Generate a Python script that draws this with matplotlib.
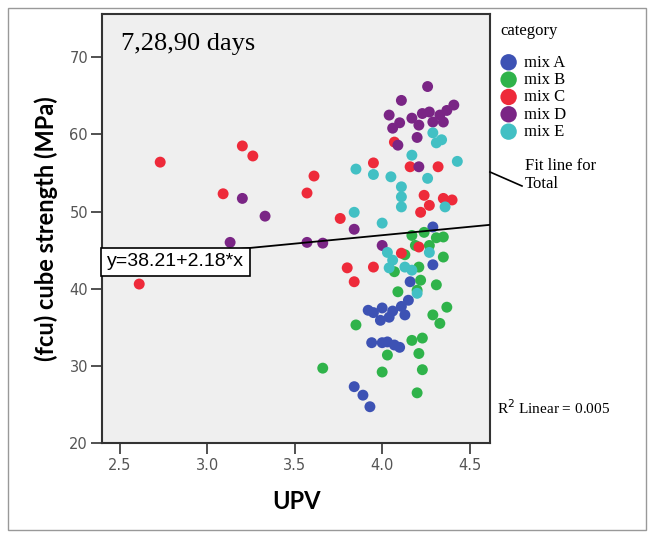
import matplotlib
matplotlib.use("Agg")
import matplotlib.pyplot as plt
from matplotlib.lines import Line2D
from matplotlib.patches import Rectangle
import numpy as np

# UPV (x) and cube strength (y) per mix
mixA_x = [3.92, 3.95, 4.00, 3.99, 4.04, 4.06, 4.11, 4.13, 4.15, 3.94, 4.00, 4.03, 4.07, 4.10,
          3.84, 3.89, 3.93, 4.29, 4.29, 4.16]
mixA_y = [37.2, 36.9, 37.5, 35.9, 36.3, 37.1, 37.7, 36.6, 38.5, 33.0, 33.0, 33.1, 32.7, 32.4,
          27.3, 26.2, 24.7, 48.0, 43.1, 40.9]

mixB_x = [3.66, 3.85, 4.00, 4.03, 4.17, 4.23, 4.21, 4.23, 4.20, 4.29, 4.33, 4.37, 4.09, 4.20,
          4.31, 4.22, 4.21, 4.07, 4.35, 4.17, 4.24, 4.31, 4.35, 4.19, 4.27, 4.13]
mixB_y = [29.7, 35.3, 29.2, 31.4, 33.3, 33.6, 31.6, 29.5, 26.5, 36.6, 35.5, 37.6, 39.6, 39.8,
          40.5, 41.1, 42.8, 42.2, 44.1, 46.9, 47.3, 46.6, 46.7, 45.6, 45.6, 44.4]

mixC_x = [2.61, 2.73, 3.20, 3.26, 3.09, 3.61, 3.57, 3.95, 4.07, 4.16, 4.32, 4.24, 4.27, 4.22,
          4.35, 4.40, 3.76, 4.21, 4.11, 3.80, 3.95, 3.84]
mixC_y = [40.6, 56.4, 58.5, 57.2, 52.3, 54.6, 52.4, 56.3, 59.0, 55.8, 55.8, 52.1, 50.8, 49.9,
          51.7, 51.5, 49.1, 45.4, 44.6, 42.7, 42.8, 40.9]

mixD_x = [3.20, 3.33, 3.13, 3.57, 3.66, 4.00, 3.84, 4.26, 4.11, 4.04, 4.10, 4.06, 4.17, 4.23,
          4.27, 4.33, 4.37, 4.41, 4.35, 4.29, 4.21, 4.09, 4.20, 4.21]
mixD_y = [51.7, 49.4, 46.0, 46.0, 45.9, 45.6, 47.7, 66.2, 64.4, 62.5, 61.5, 60.8, 62.1, 62.7,
          62.9, 62.5, 63.1, 63.8, 61.6, 61.6, 61.2, 58.6, 59.6, 55.8]

mixE_x = [3.85, 3.95, 4.05, 4.11, 4.11, 4.11, 4.26, 4.17, 4.43, 4.29, 4.31, 4.34, 4.36, 3.84,
          4.00, 4.03, 4.06, 4.13, 4.17, 4.27, 4.04, 4.20]
mixE_y = [55.5, 54.8, 54.5, 53.2, 51.9, 50.6, 54.3, 57.3, 56.5, 60.2, 58.9, 59.3, 50.6, 49.9,
          48.5, 44.7, 43.7, 42.8, 42.4, 44.7, 42.7, 39.4]

labels = ["mix A", "mix B", "mix C", "mix D", "mix E"]
colors = ["#3d52b4", "#2fb34a", "#ee2a3a", "#7a2585", "#42c0c4"]
intercept, slope = 38.21, 2.18
r2 = 0.005

xticks = [2.5, 3.0, 3.5, 4.0, 4.5]
yticks = [20, 30, 40, 50, 60, 70]

W, H = 651, 535
fig = plt.figure(figsize=(W / 100, H / 100), dpi=100)
fig.patch.set_facecolor("white")

# plot box in pixels: left 102, right 490, top 14, bottom 443
ax = fig.add_axes([102 / W, (H - 443) / H, (490 - 102) / W, (443 - 14) / H])
ax.set_facecolor("#efefef")

series = [(mixA_x, mixA_y), (mixB_x, mixB_y), (mixC_x, mixC_y), (mixD_x, mixD_y), (mixE_x, mixE_y)]
handles = []
for (xs, ys), lab, col in zip(series, labels, colors):
    h = ax.scatter(xs, ys, s=62, color=col, edgecolors="none", label=lab, zorder=3)
    handles.append(h)

ax.set_xlim(2.397, 4.617)
ax.set_ylim(20, 75.6)

xx = np.array(ax.get_xlim())
ax.plot(xx, intercept + slope * xx, color="black", lw=1.3, zorder=4)

ax.set_xticks(xticks)
ax.set_yticks(yticks)
ax.set_xticklabels([f"{v:.1f}" for v in xticks])
ax.tick_params(axis="x", length=8, width=1.2, color="#333333", pad=3, labelsize=10.5, labelcolor="#555555")
ax.tick_params(axis="y", length=8, width=1.2, color="#333333", pad=2, labelsize=10.5, labelcolor="#555555")
for sp in ax.spines.values():
    sp.set_color("#333333")
    sp.set_linewidth(1.5)

ax.text(0.05, 0.955, "7,28,90 days", transform=ax.transAxes, family="Liberation Serif",
        fontsize=19, va="top", ha="left", zorder=6)

ax.text(0.013, 0.422, "y=38.21+2.18*x", transform=ax.transAxes, family="Liberation Sans",
        fontsize=14, va="center", ha="left", zorder=6,
        bbox=dict(boxstyle="square,pad=0.3", facecolor="white", edgecolor="black", lw=1.2))

ax.set_xlabel("UPV", family="Lato", fontweight="bold", fontsize=17, labelpad=12)
ax.set_ylabel("(fcu) cube strength (MPa)", family="Lato", fontweight="bold", fontsize=17, labelpad=8)

fig.text(500 / W, 1 - 31 / H, "category", family="Liberation Serif", fontsize=12, va="center")
leg = ax.legend(handles=handles, loc="upper left",
                bbox_to_anchor=(1.005, 1 - 34 / 429), frameon=False, markerscale=1.5,
                prop={"family": "Liberation Serif", "size": 12}, handletextpad=0.3,
                labelspacing=0.08, borderaxespad=0, handlelength=1.2)

fig.text(525 / W, 1 - 166 / H, "Fit line for", family="Liberation Serif", fontsize=12, va="center")
fig.text(525 / W, 1 - 184 / H, "Total", family="Liberation Serif", fontsize=12, va="center")
fig.add_artist(Line2D([490 / W, 522 / W], [1 - 172 / H, 1 - 186 / H], color="black", lw=1.2))

fig.text(497 / W, 1 - 408 / H, "R$^2$ Linear = %.3f" % r2, family="Liberation Serif",
         fontsize=11, va="center")

fig.add_artist(Rectangle((8 / W, 5 / H), 638 / W, 522 / H, transform=fig.transFigure,
                         fill=False, edgecolor="#999999", lw=1.0))

fig.savefig("out.png", dpi=100)
